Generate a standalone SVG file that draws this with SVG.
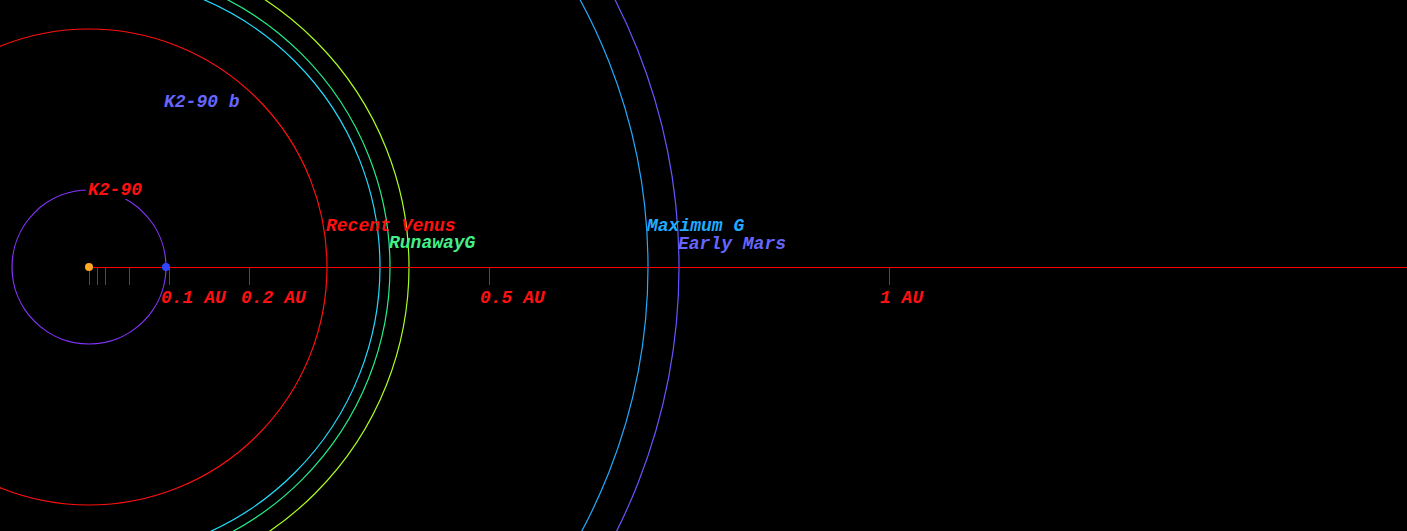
<svg xmlns="http://www.w3.org/2000/svg" width="1407" height="531" viewBox="0 0 1407 531">
<style>
.orbit{fill:none;stroke-width:1.2}
.lbl{font-family:"Courier New","Nimbus Mono PS","FreeMono","Liberation Mono",monospace;font-style:italic;font-weight:bold;font-size:18px}
.ax{stroke:#ff0000;stroke-width:1}
</style>
<rect width="1407" height="531" fill="#000"/>
<g id="zones">
<circle id="recent-venus" class="orbit" cx="89" cy="267" r="238" stroke="#ff1010"/>
<circle id="runaway-greenhouse-inner" class="orbit" cx="89" cy="267" r="291" stroke="#22ddff"/>
<circle id="runaway-greenhouse" class="orbit" cx="89" cy="267" r="301" stroke="#22ee88"/>
<circle id="moist-greenhouse" class="orbit" cx="89" cy="267" r="320" stroke="#aaff22"/>
<circle id="maximum-greenhouse" class="orbit" cx="89" cy="267" r="559" stroke="#22aaff"/>
<circle id="early-mars" class="orbit" cx="89" cy="267" r="590" stroke="#6655ff"/>
</g>
<g id="planet-orbit">
<circle class="orbit" cx="89" cy="267" r="77" stroke="#8833ff"/>
</g>
<g id="connectors">
<line class="ax" x1="89" y1="267.5" x2="1407" y2="267.5"/>
<line class="ax" x1="89.5" y1="267" x2="89.5" y2="285"/>
<line class="ax" x1="97.5" y1="267" x2="97.5" y2="285"/>
<line class="ax" x1="105.5" y1="267" x2="105.5" y2="285"/>
<line class="ax" x1="129.5" y1="267" x2="129.5" y2="285"/>
<line class="ax" x1="169.5" y1="267" x2="169.5" y2="285"/>
<line class="ax" x1="249.5" y1="267" x2="249.5" y2="285"/>
<line class="ax" x1="489.5" y1="267" x2="489.5" y2="285"/>
<line class="ax" x1="889.5" y1="267" x2="889.5" y2="285"/>
</g>
<g id="star">
<circle cx="89" cy="267" r="4" fill="#ffaa22"/>
<rect x="86" y="181" width="62" height="18" fill="#000"/>
<text class="lbl" x="88" y="195" fill="#ff1010">K2-90</text>
</g>
<g id="planet">
<circle cx="166" cy="267" r="4" fill="#3344ff"/>
<text class="lbl" x="164" y="107" fill="#6666ff">K2-90 b</text>
</g>
<g id="zone-labels">
<text class="lbl" x="326" y="231" fill="#ff1010">Recent Venus</text>
<text class="lbl" x="389" y="248" fill="#44ee88">RunawayG</text>
<text class="lbl" x="647" y="231" fill="#22aaff">Maximum G</text>
<text class="lbl" x="678" y="249" fill="#6666ff">Early Mars</text>
</g>
<g id="axis-labels">
<text class="lbl" x="161" y="303" fill="#ff1010">0.1 AU</text>
<text class="lbl" x="241" y="303" fill="#ff1010">0.2 AU</text>
<text class="lbl" x="480" y="303" fill="#ff1010">0.5 AU</text>
<text class="lbl" x="880" y="303" fill="#ff1010">1 AU</text>
</g>
</svg>
